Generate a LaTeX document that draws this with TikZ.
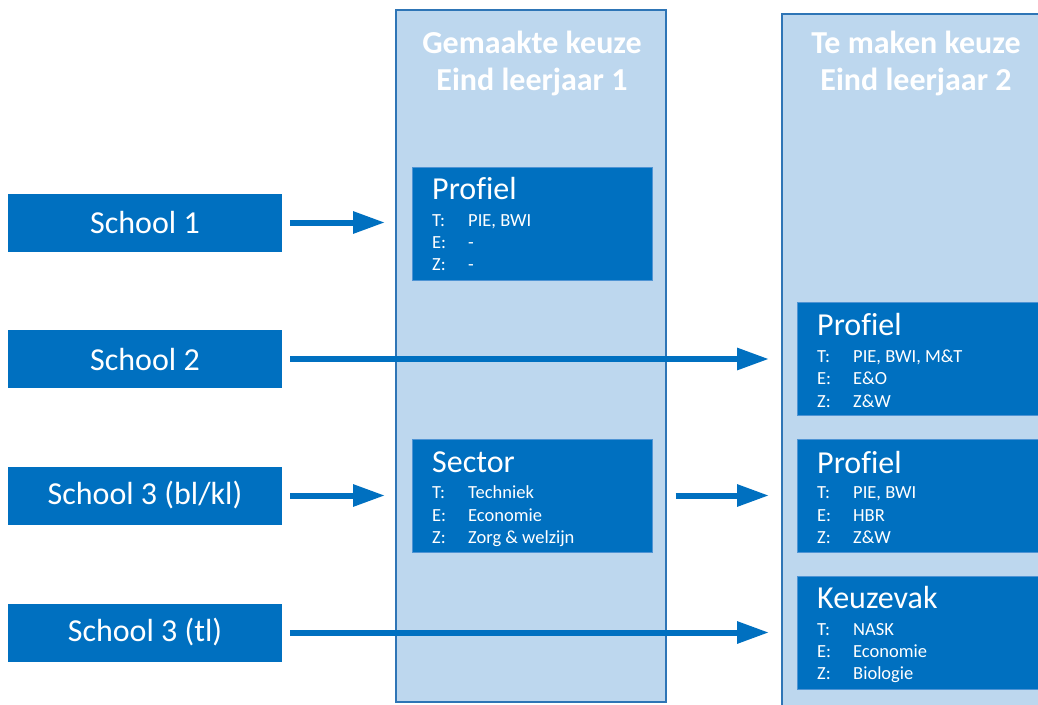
\documentclass[tikz,border=0pt]{standalone}
\usepackage{fontspec}
\setmainfont{Carlito}[Ligatures=NoCommon]
\usetikzlibrary{arrows.meta}
\definecolor{dblue}{HTML}{0070C0}
\definecolor{lblue}{HTML}{BDD7EE}
\definecolor{cborder}{HTML}{2E75B6}
\definecolor{boxedge}{HTML}{4F94D4}

\begin{document}
\begin{tikzpicture}[x=1pt,y=-1pt,
  column/.style={fill=lblue, draw=cborder, line width=1.2pt},
  school/.style={fill=dblue, text=white, minimum width=274pt, minimum height=58pt,
    inner sep=0pt, font=\fontsize{32}{38}\selectfont},
  choicebox/.style={fill=dblue, draw=boxedge, line width=0.6pt, anchor=north west,
    minimum width=240pt, minimum height=113pt, inner sep=0pt},
  header/.style={text=white, anchor=base, inner sep=0pt, font=\bfseries\fontsize{32}{38}\selectfont},
  boxtitle/.style={text=white, anchor=base west, inner sep=0pt, font=\fontsize{32}{38}\selectfont},
  row/.style={text=white, anchor=base west, inner sep=0pt, font=\fontsize{18.5}{22}\selectfont},
  flow/.style={draw=dblue, line width=6pt, -{Triangle[length=32pt,width=21pt]}}
]
\useasboundingbox (0,0) rectangle (1038,704);
\clip (0,0) rectangle (1038,704);

% the two year columns
\draw[column] (396,10) rectangle (666,702);
\draw[column] (782,14) rectangle (1060,730);
\node[header] (h1a) at (532,53) {Gemaakte keuze};
\node[header] (h1b) at (532,90) {Eind leerjaar 1};
\node[header] (h2a) at (916,53) {Te maken keuze};
\node[header] (h2b) at (916,90) {Eind leerjaar 2};

% choices made at the end of year 1
\node[choicebox] (p1) at (412,167) {};
\node[boxtitle] (p1t) at (432,199) {Profiel};
\node[row] (p1tl) at (432,226) {T:};
\node[row] (p1tv) at (468,226) {PIE, BWI};
\node[row] (p1el) at (432,248) {E:};
\node[row] (p1ev) at (468,248) {-};
\node[row] (p1zl) at (432,270) {Z:};
\node[row] (p1zv) at (468,270) {-};

\node[choicebox] (sec) at (412,439) {};
\node[boxtitle] (sect) at (432,472) {Sector};
\node[row] (sectl) at (432,498) {T:};
\node[row] (sectv) at (468,498) {Techniek};
\node[row] (secel) at (432,521) {E:};
\node[row] (secev) at (468,521) {Economie};
\node[row] (seczl) at (432,543) {Z:};
\node[row] (seczv) at (468,543) {Zorg \& welzijn};

% choices to be made at the end of year 2
\node[choicebox, minimum width=260pt] (p2) at (797,302) {};
\node[boxtitle] (p2t) at (817,335) {Profiel};
\node[row] (p2tl) at (817,362) {T:};
\node[row] (p2tv) at (853,362) {PIE, BWI, M\&T};
\node[row] (p2el) at (817,384) {E:};
\node[row] (p2ev) at (853,384) {E\&O};
\node[row] (p2zl) at (817,407) {Z:};
\node[row] (p2zv) at (853,407) {Z\&W};

\node[choicebox, minimum width=260pt] (p3) at (797,439) {};
\node[boxtitle] (p3t) at (817,473) {Profiel};
\node[row] (p3tl) at (817,498) {T:};
\node[row] (p3tv) at (853,498) {PIE, BWI};
\node[row] (p3el) at (817,521) {E:};
\node[row] (p3ev) at (853,521) {HBR};
\node[row] (p3zl) at (817,543) {Z:};
\node[row] (p3zv) at (853,543) {Z\&W};

\node[choicebox, minimum width=260pt] (kv) at (797,576) {};
\node[boxtitle] (kvt) at (817,608) {Keuzevak};
\node[row] (kvtl) at (817,635) {T:};
\node[row] (kvtv) at (853,635) {NASK};
\node[row] (kvel) at (817,657) {E:};
\node[row] (kvev) at (853,657) {Economie};
\node[row] (kvzl) at (817,679) {Z:};
\node[row] (kvzv) at (853,679) {Biologie};

% schools
\node[school] (s1) at (145,222.5) {School 1};
\node[school] (s2) at (145,359) {School 2};
\node[school] (s3) at (145,495.5) {School 3 (bl/kl)};
\node[school] (s4) at (145,632.5) {School 3 (tl)};

% flows
\draw[flow, shorten <=8pt, shorten >=27pt] (s1.east) -- (s1.east -| p1.west);
\draw[flow, shorten <=8pt, shorten >=28pt] (s2.east) -- (s2.east -| p2.west);
\draw[flow, shorten <=8pt, shorten >=27pt] (s3.east) -- (s3.east -| sec.west);
\draw[flow, shorten <=23pt, shorten >=28pt] (s3.east -| sec.east) -- (s3.east -| p3.west);
\draw[flow, shorten <=8pt, shorten >=28pt] (s4.east) -- (s4.east -| kv.west);
\end{tikzpicture}
\end{document}
